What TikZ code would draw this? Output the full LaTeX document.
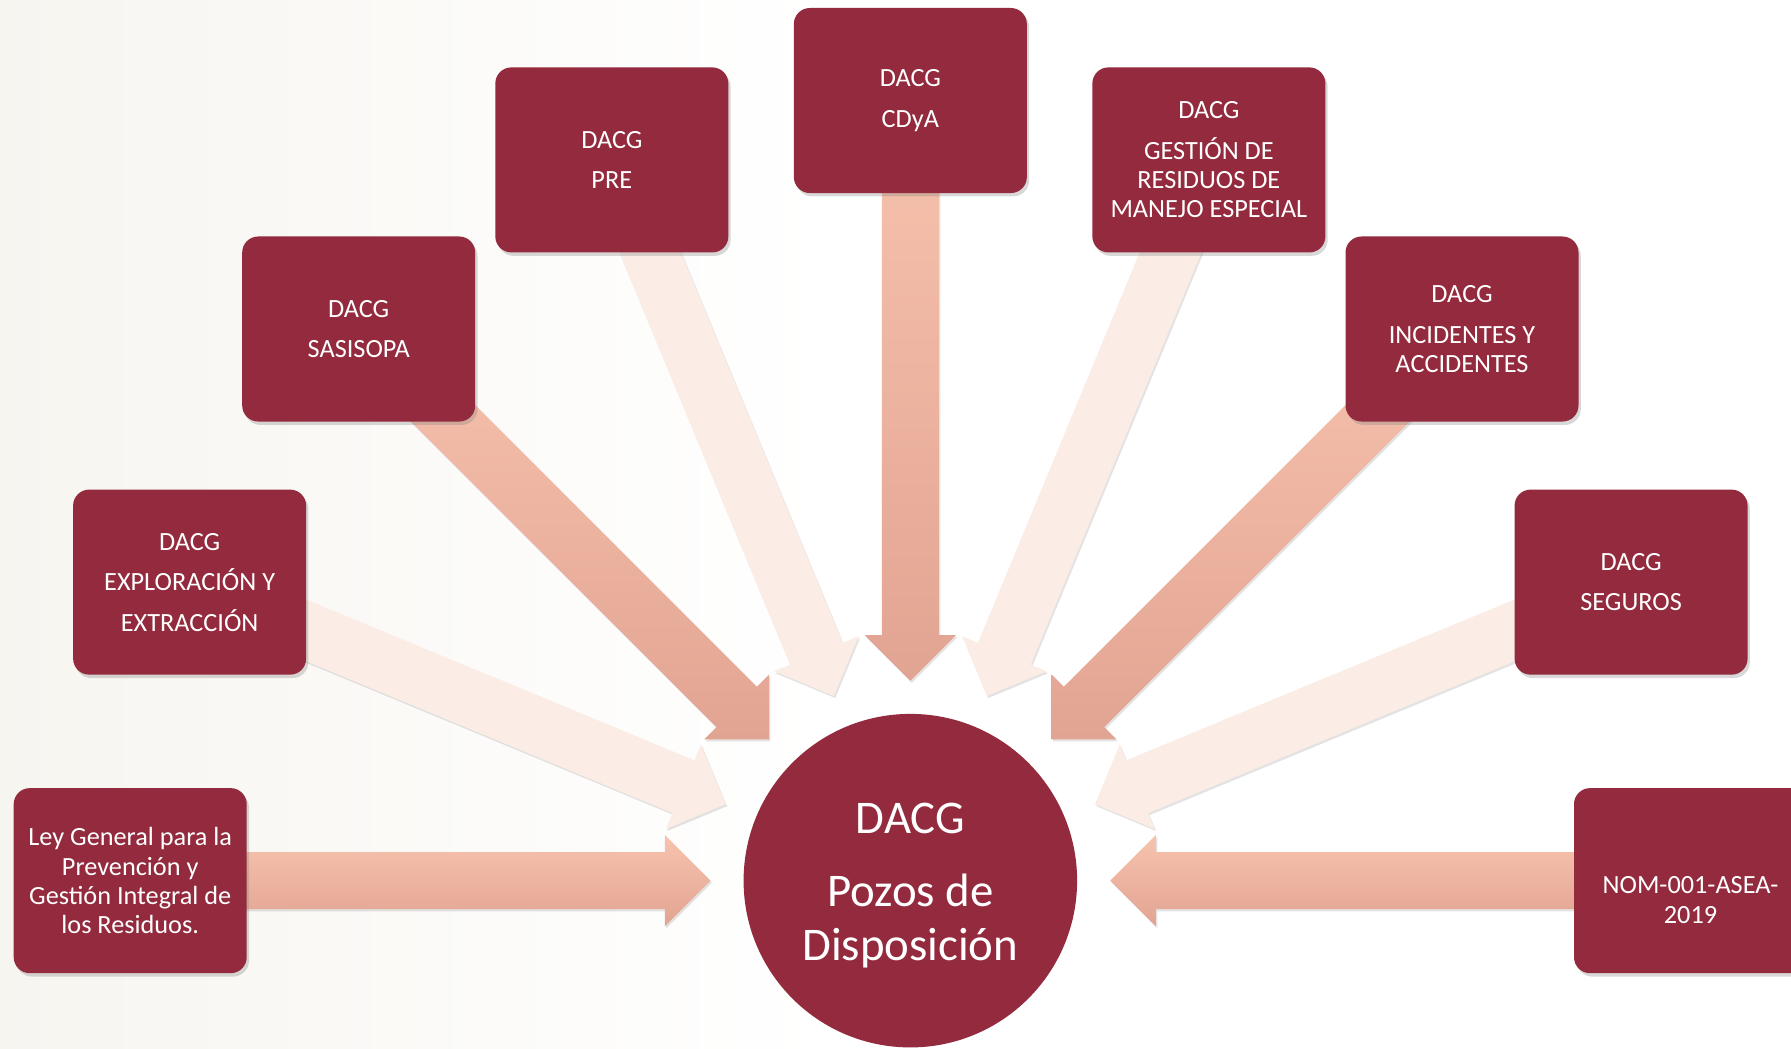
\documentclass[tikz,border=0pt]{standalone}
\usepackage{fontspec}
\setmainfont{Carlito}
\usetikzlibrary{calc,shadows,backgrounds}
\definecolor{dacg}{RGB}{147,42,61}
\definecolor{arlight}{RGB}{251,236,229}
\definecolor{ardarktop}{RGB}{247,195,174}
\definecolor{ardarkbot}{RGB}{226,164,146}
\definecolor{wm}{RGB}{247,245,240}
% #1 source node, #2 angle seen from the hub, #3 style
\newcommand\mkarrow[3]{%
  \path[#3] ($(#1)+({#2+90}:25)$) -- ($(O)+(#2:215)+({#2+90}:25)$)
    -- ($(O)+(#2:215)+({#2+90}:40)$) -- ($(O)+(#2:175)$)
    -- ($(O)+(#2:215)+({#2-90}:40)$) -- ($(O)+(#2:215)+({#2-90}:25)$)
    -- ($(#1)+({#2-90}:25)$) -- cycle;}
\begin{document}
\begin{tikzpicture}[x=1pt,y=-1pt,
  box/.style={rectangle, rounded corners=14pt, fill=dacg, minimum width=204pt,
    minimum height=162pt, text=white, align=center, inner sep=0pt,
    font=\fontsize{23}{25.5}\selectfont,
    drop shadow={shadow xshift=2pt, shadow yshift=-3pt, opacity=0.3}},
  boxtext/.style={text=white, align=center, inner sep=0pt, font=\fontsize{23}{25.5}\selectfont},
  hub/.style={circle, fill=dacg, minimum size=292pt, inner sep=0pt},
  hubtext/.style={text=white, align=center, inner sep=0pt, font=\fontsize{41}{47}\selectfont},
  lightar/.style={fill=arlight, drop shadow={shadow xshift=1.2pt, shadow yshift=-1.8pt, opacity=0.22}},
  darkar/.style={top color=ardarktop, bottom color=ardarkbot, drop shadow={shadow xshift=1.2pt, shadow yshift=-1.8pt, opacity=0.22}}]
\useasboundingbox (0,0) rectangle (1568,918);
\clip (0,0) rectangle (1568,918);

\node[hub] (O) at (797,771) {};
\node[hubtext] (Otext) at ($(O)+(0,4)$) {DACG\\[17pt]Pozos de\\Disposición};

\node[box] (ley) at ($(O)+(180:683)$) {Ley General para la\\Prevención y\\Gestión Integral de\\los Residuos.};
\node[box] (exp) at ($(O)+(202.5:683)$) {DACG\\[10pt]EXPLORACIÓN Y\\[10pt]EXTRACCIÓN};
\node[box] (sas) at ($(O)+(225:683)$) {DACG\\[10pt]SASISOPA};
\node[box] (pre) at ($(O)+(247.5:683)$) {DACG\\[10pt]PRE};
\node[box] (cdy) at ($(O)+(270:683)$) {DACG\\[10pt]CDyA};
\node[box] (ges) at ($(O)+(292.5:683)$) {DACG\\[10pt]GESTIÓN DE\\RESIDUOS DE\\MANEJO ESPECIAL};
\node[box] (inc) at ($(O)+(315:683)$) {DACG\\[10pt]INCIDENTES Y\\ACCIDENTES};
\node[box] (seg) at ($(O)+(337.5:683)$) {DACG\\[10pt]SEGUROS};
\node[box] (nom) at ($(O)+(0:683)$) {};
\node[boxtext] (nomt) at ($(nom)+(0,17)$) {NOM-001-ASEA-\\2019};

\begin{pgfonlayer}{background}
  \fill[white] (0,0) rectangle (1568,918);
  \shade[left color=wm, right color=white] (0,0) rectangle (720,918);
  \mkarrow{ley}{180}{darkar}
  \mkarrow{exp}{202.5}{lightar}
  \mkarrow{sas}{225}{darkar}
  \mkarrow{pre}{247.5}{lightar}
  \mkarrow{cdy}{270}{darkar}
  \mkarrow{ges}{292.5}{lightar}
  \mkarrow{inc}{315}{darkar}
  \mkarrow{seg}{337.5}{lightar}
  \mkarrow{nom}{0}{darkar}
\end{pgfonlayer}
\end{tikzpicture}
\end{document}
